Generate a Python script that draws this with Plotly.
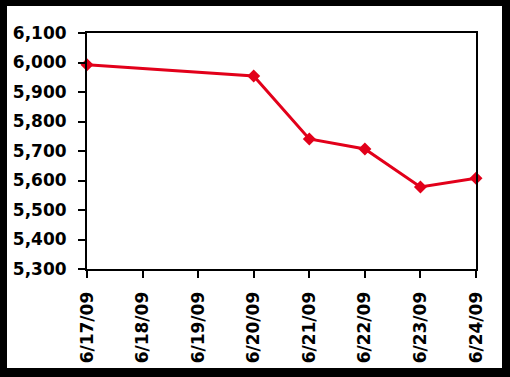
import plotly.graph_objects as go

dates = ["2009-06-17", "2009-06-20", "2009-06-21", "2009-06-22", "2009-06-23", "2009-06-24"]
values = [5992, 5954, 5741, 5707, 5578, 5608]
x_range = ["2009-06-17", "2009-06-24"]
y_range = [5300, 6100]

W, H = 510, 377
L, R, T, B = 87, 34, 33, 108
pw, ph = W - L - R, H - T - B

def px_x(p):
    return (p - L) / pw

def px_y(p):
    return (H - B - p) / ph

font = dict(family="DejaVu Sans", size=17, color="black", weight="bold")

fig = go.Figure()
fig.add_trace(go.Scatter(
    x=dates, y=values, mode="lines+markers",
    line=dict(color="#E2001A", width=3),
    marker=dict(symbol="diamond", size=10, color="#E2001A"),
    cliponaxis=False,
))

fig.add_shape(type="rect", xref="paper", yref="paper", layer="below",
              x0=px_x(7), x1=px_x(502), y0=px_y(368), y1=px_y(6),
              fillcolor="white", line=dict(width=0))

fig.update_layout(
    width=W, height=H,
    margin=dict(l=L, r=R, t=T, b=B),
    paper_bgcolor="black", plot_bgcolor="white",
    showlegend=False,
    font=font,
    xaxis=dict(type="date", range=x_range, dtick=86400000, tick0=x_range[0],
               tickformat="%-m/%d/%y", tickangle=-90,
               showgrid=False, zeroline=False,
               showline=True, linecolor="black", linewidth=2, mirror=True,
               ticks="outside", ticklen=7, tickwidth=1.5, tickcolor="black",
               ticklabelstandoff=7, tickfont=font),
    yaxis=dict(range=y_range, dtick=100, tickformat=",",
               showgrid=False, zeroline=False,
               showline=True, linecolor="black", linewidth=2, mirror=True,
               ticks="outside", ticklen=7, tickwidth=1.5, tickcolor="black",
               ticklabelstandoff=8, tickfont=font),
)

fig.write_html("out.html")
